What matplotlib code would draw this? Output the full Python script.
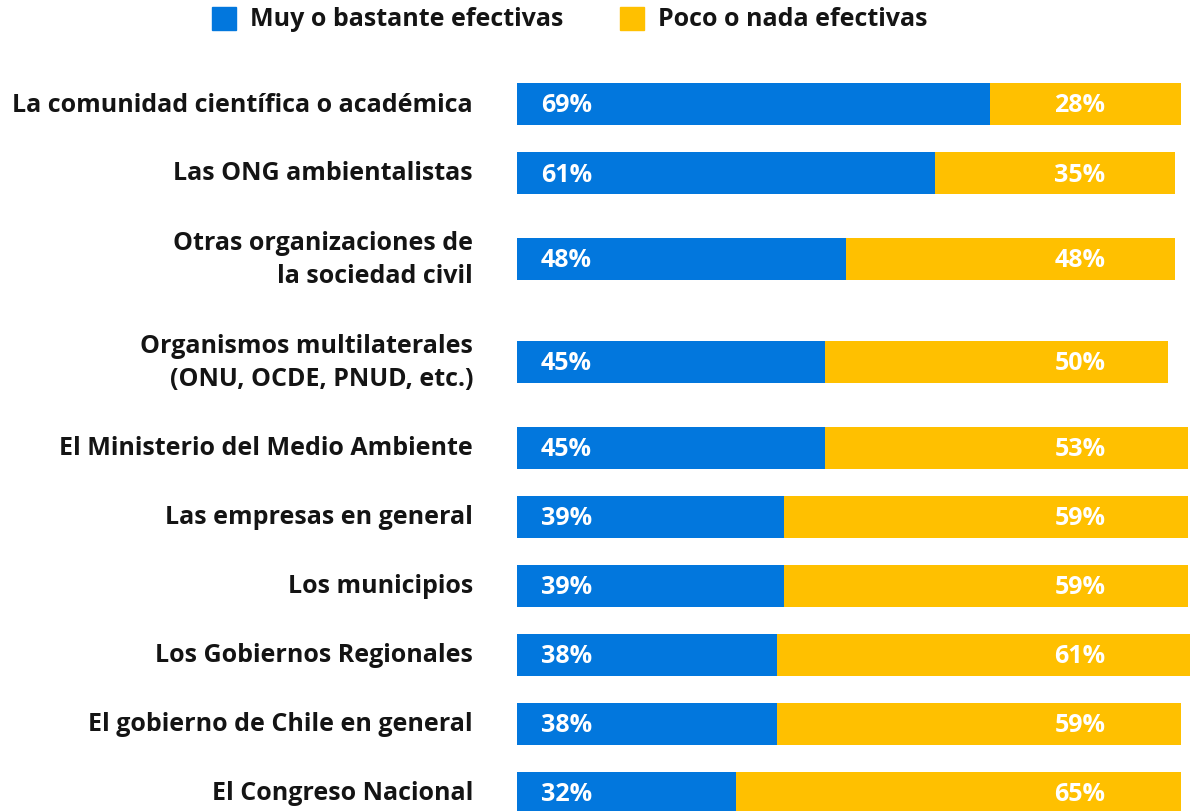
import matplotlib
matplotlib.use("Agg")
import matplotlib.pyplot as plt
from matplotlib.patches import Rectangle

categories = [
    "La comunidad científica o académica",
    "Las ONG ambientalistas",
    "Otras organizaciones de\nla sociedad civil",
    "Organismos multilaterales\n(ONU, OCDE, PNUD, etc.)",
    "El Ministerio del Medio Ambiente",
    "Las empresas en general",
    "Los municipios",
    "Los Gobiernos Regionales",
    "El gobierno de Chile en general",
    "El Congreso Nacional",
]
efectivas = [69, 61, 48, 45, 45, 39, 39, 38, 38, 32]
no_efectivas = [28, 35, 48, 50, 53, 59, 59, 61, 59, 65]
series_names = ["Muy o bastante efectivas", "Poco o nada efectivas"]

BLUE = "#0277DD"
YELLOW = "#FFC000"
FONT = ["Open Sans", "DejaVu Sans"]

W, H = 1190, 812
fig = plt.figure(figsize=(W / 100, H / 100), dpi=100)

# axes in pixel-like units vertically, percent horizontally
left_px = 517
px_per_pct = 6.85
ax = fig.add_axes([left_px / W, 0, (W - left_px) / W, 1])
ax.set_xlim(0, (W - left_px) / px_per_pct)
ax.set_ylim(H, 0)
ax.axis("off")

# row centres: extra room around two-line labels
ypos = []
y = 105
for i, cat in enumerate(categories):
    if i > 0:
        gap = 69
        gap += 17 * categories[i - 1].count("\n")
        gap += 17 * cat.count("\n")
        y += gap
    ypos.append(y)

bar_h = 42
ax.barh(ypos, efectivas, height=bar_h, color=BLUE, left=0)
ax.barh(ypos, no_efectivas, height=bar_h, color=YELLOW, left=efectivas)

fs = 18
for yc, cat, a, b in zip(ypos, categories, efectivas, no_efectivas):
    ax.text(-44 / px_per_pct, yc, cat, ha="right", va="center", fontsize=fs,
            fontweight="bold", family=FONT, color="#141414", linespacing=1.45,
            clip_on=False)
    ax.text(24 / px_per_pct, yc + 1, f"{a}%", ha="left", va="center",
            fontsize=fs, fontweight="bold", family=FONT, color="white")
    ax.text(563 / px_per_pct, yc + 1, f"{b}%", ha="center", va="center",
            fontsize=fs, fontweight="bold", family=FONT, color="white")

# legend
for x0, name, col in [(212, series_names[0], BLUE), (620, series_names[1], YELLOW)]:
    fig.patches.append(Rectangle((x0 / W, 1 - 31 / H), 24 / W, 23 / H,
                                 transform=fig.transFigure, color=col))
    fig.text((x0 + 38) / W, 1 - 20 / H, name, ha="left", va="center",
             fontsize=fs, fontweight="bold", family=FONT, color="#141414")

fig.savefig("out.png", dpi=100)
